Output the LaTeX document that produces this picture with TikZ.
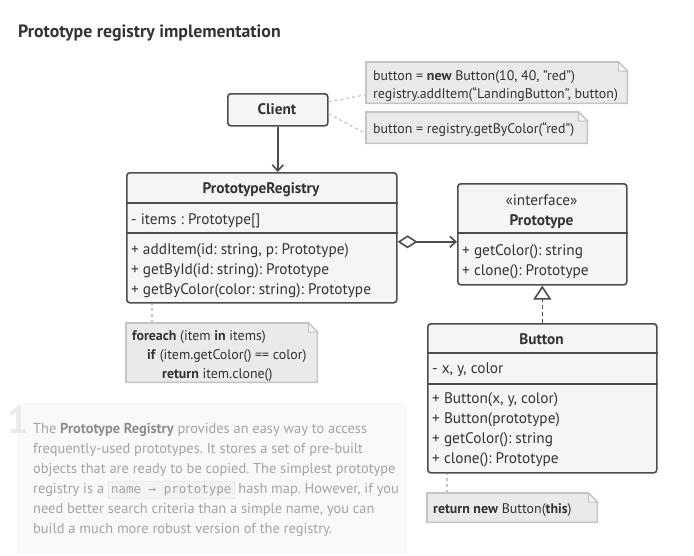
\documentclass[tikz,border=0pt]{standalone}
\usepackage{fontspec}
\setmainfont{PT Sans}
\setmonofont{DejaVu Sans Mono}
\usetikzlibrary{arrows.meta}

\definecolor{boxline}{HTML}{4D4D4D}
\definecolor{boxfill}{HTML}{F5F5F5}
\definecolor{notefill}{HTML}{EAEAEA}
\definecolor{notegray}{HTML}{C4C4C4}
\definecolor{foldfill}{HTML}{F4F4F4}
\definecolor{ink}{HTML}{333333}
\definecolor{faint}{HTML}{A3A3A3}
\definecolor{faintbold}{HTML}{8C8C8C}
\definecolor{panel}{HTML}{F9F9F9}
\definecolor{codefill}{HTML}{F3F3F3}
\definecolor{codeline}{HTML}{EBEBEB}

\tikzset{
  classbox/.style={draw=boxline, fill=boxfill, line width=1.6pt, rounded corners=3pt,
    anchor=north west, inner sep=0pt},
  notebox/.style={anchor=north west, inner sep=0pt},
  txt/.style={anchor=base west, inner sep=0pt, text=ink, font=\fontsize{15.3}{17}\selectfont},
  ctxt/.style={txt, anchor=base},
  btxt/.style={ctxt, font=\fontsize{15.3}{17}\bfseries\selectfont},
  ntxt/.style={txt, font=\fontsize{13.9}{15}\selectfont},
  ptxt/.style={txt, text=faint, font=\fontsize{14.4}{17}\selectfont},
  link/.style={draw=boxline, line width=1.6pt},
  dashlink/.style={draw=notegray, line width=1.2pt, dash pattern=on 3pt off 3pt},
  sep/.style={draw=boxline, line width=1.6pt},
}

% folded note outline around an empty node
\newcommand{\dognote}[1]{%
  \filldraw[fill=notefill, draw=notegray, line width=1.6pt]
    (#1.north west) -- ([xshift=-9pt]#1.north east) -- ([yshift=-9pt]#1.north east)
    -- (#1.south east) -- (#1.south west) -- cycle;
  \filldraw[fill=foldfill, draw=notegray, line width=1pt]
    ([xshift=-9pt]#1.north east) -- ([xshift=-9pt,yshift=-9pt]#1.north east)
    -- ([yshift=-9pt]#1.north east) -- cycle;}

\newcommand{\codebit}[1]{{\setlength{\fboxsep}{2.5pt}\setlength{\fboxrule}{0.6pt}%
  \fcolorbox{codeline}{codefill}{\fontsize{12.5}{14}\ttfamily\color{faint}#1}}}

\begin{document}
\frenchspacing
\begin{tikzpicture}[x=1pt, y=-1pt]
\useasboundingbox (0,0) rectangle (694,555);

\node[txt, font=\fontsize{17.8}{20}\bfseries\selectfont] (title) at (18,37) {Prototype registry implementation};

% classes
\node[classbox, minimum width=100pt, minimum height=32pt] (client) at (227,93) {};
\node[btxt] (clientname) at (277,114) {Client};

\node[classbox, minimum width=270pt, minimum height=130pt] (reg) at (126,172) {};
\draw[sep] ([yshift=-31pt]reg.north west) -- ([yshift=-31pt]reg.north east);
\draw[sep] ([yshift=-61pt]reg.north west) -- ([yshift=-61pt]reg.north east);
\node[btxt] (regname) at (261,193) {PrototypeRegistry};
\node[txt] (regattr) at (131,224) {- items : Prototype[]};
\node[txt] (regm1) at (131,254) {+ addItem(id: string, p: Prototype)};
\node[txt] (regm2) at (131,274) {+ getById(id: string): Prototype};
\node[txt] (regm3) at (131,294) {+ getByColor(color: string): Prototype};

\node[classbox, minimum width=169pt, minimum height=101pt] (proto) at (457,183) {};
\draw[sep] ([yshift=-50pt]proto.north west) -- ([yshift=-50pt]proto.north east);
\node[ctxt] (stereo) at (541.5,205) {«interface»};
\node[btxt] (protoname) at (541.5,225) {Prototype};
\node[txt] (protom1) at (462,255) {+ getColor(): string};
\node[txt] (protom2) at (462,275) {+ clone(): Prototype};

\node[classbox, minimum width=229pt, minimum height=149pt] (button) at (427,323) {};
\draw[sep] ([yshift=-30pt]button.north west) -- ([yshift=-30pt]button.north east);
\draw[sep] ([yshift=-61pt]button.north west) -- ([yshift=-61pt]button.north east);
\node[btxt] (buttonname) at (541.5,344) {Button};
\node[txt] (buttonattr) at (432,373) {- x, y, color};
\node[txt] (buttonm1) at (432,403) {+ Button(x, y, color)};
\node[txt] (buttonm2) at (432,423) {+ Button(prototype)};
\node[txt] (buttonm3) at (432,443) {+ getColor(): string};
\node[txt] (buttonm4) at (432,463) {+ clone(): Prototype};

% relations
\draw[link, -{Straight Barb[length=6pt, width=11pt]}] (client.south) -- (client.south |- reg.north);
\draw[link, {Diamond[open, length=20pt, width=13pt]}-{Straight Barb[length=6pt, width=11pt]}]
  ([yshift=-4pt]reg.east) -- ([yshift=-4pt]reg.east -| proto.west);
\draw[link, dash pattern=on 4pt off 3pt, -{Triangle[open, length=14pt, width=18pt]}] (button.north) -- (proto.south);

% notes
\node[notebox, minimum width=261pt, minimum height=41pt] (addnote) at (366,62) {};
\dognote{addnote}
\node[ntxt] (addnote1) at (373,80) {button = \textbf{new} Button(10, 40, "red")};
\node[ntxt] (addnote2) at (373,98) {registry.addItem(“LandingButton”, button)};

\node[notebox, minimum width=221pt, minimum height=31pt] (getnote) at (366,112) {};
\dognote{getnote}
\node[ntxt] (getnote1) at (373,133) {button = registry.getByColor(“red”)};

\node[notebox, minimum width=191pt, minimum height=59pt] (loopnote) at (126,323) {};
\dognote{loopnote}
\node[ntxt] (loopnote1) at (132,340) {\textbf{foreach} (item \textbf{in} items)};
\node[ntxt] (loopnote2) at (147,359) {\textbf{if} (item.getColor() == color)};
\node[ntxt] (loopnote3) at (162,378) {\textbf{return} item.clone()};

\node[notebox, minimum width=170pt, minimum height=29pt] (clonenote) at (427,493) {};
\dognote{clonenote}
\node[ntxt] (clonenote1) at (433,513) {\textbf{return new} Button(\textbf{this})};

\draw[dashlink] ([yshift=8pt]client.east) -- ([yshift=-12pt]addnote.west);
\draw[dashlink] ([yshift=-4pt]client.east) -- ([yshift=-6pt]getnote.west);
\draw[dashlink] ([xshift=26pt]loopnote.north west) -- ([xshift=26pt]loopnote.north west |- reg.south);
\draw[dashlink] ([xshift=20pt]clonenote.north west) -- ([xshift=20pt]clonenote.north west |- button.south);

% explanation
\fill[panel] (17,403) rectangle (407,553);
\node[txt, text=notefill, font=\fontsize{38}{40}\bfseries\selectfont] (step) at (7,433) {1};
\node[ptxt] (para1) at (33,433) {The \textcolor{faintbold}{\textbf{Prototype Registry}} provides an easy way to access};
\node[ptxt] (para2) at (33,453) {frequently-used prototypes. It stores a set of pre-built};
\node[ptxt] (para3) at (33,473) {objects that are ready to be copied. The simplest prototype};
\node[ptxt] (para4) at (33,493) {registry is a \codebit{name → prototype} hash map. However, if you};
\node[ptxt] (para5) at (33,513) {need better search criteria than a simple name, you can};
\node[ptxt] (para6) at (33,533) {build a much more robust version of the registry.};

\end{tikzpicture}
\end{document}
